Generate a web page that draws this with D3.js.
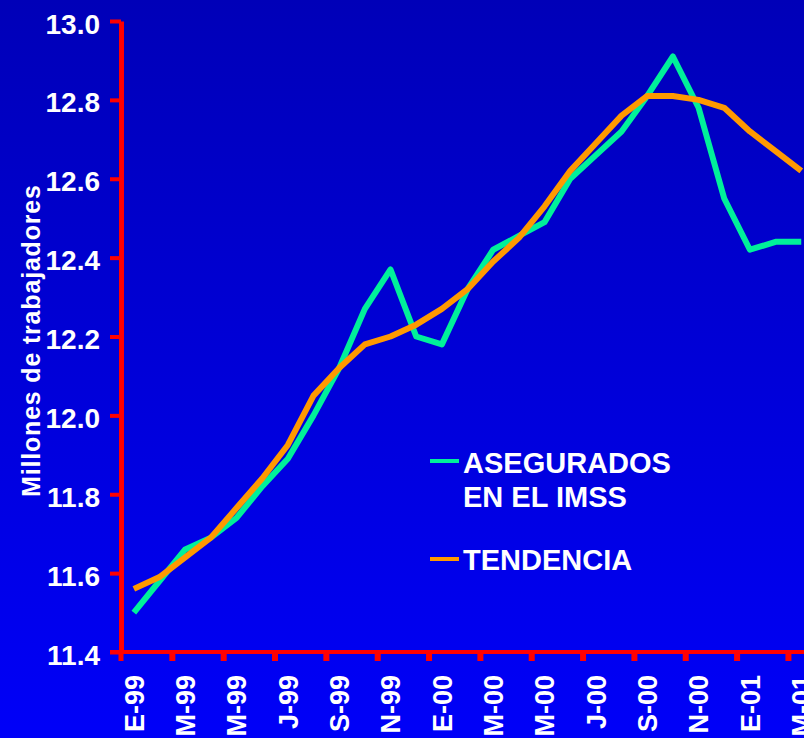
<!DOCTYPE html>
<html>
<head>
<meta charset="utf-8">
<script src="https://cdn.jsdelivr.net/npm/d3@7"></script>
<style>
  html, body { margin: 0; padding: 0; background: #0000cc; }
  svg { display: block; }
  text { font-family: Arial, "Liberation Sans", sans-serif; font-weight: bold; fill: #ffffff; }
</style>
</head>
<body>
<svg id="chart" width="804" height="738"></svg>
<script>
// ---- Data ----
const months = ["E-99","F-99","M-99","A-99","M-99","J-99","J-99","A-99","S-99","O-99","N-99","D-99",
                "E-00","F-00","M-00","A-00","M-00","J-00","J-00","A-00","S-00","O-00","N-00","D-00",
                "E-01","F-01","M-01"];
const asegurados = [11.50, 11.58, 11.66, 11.69, 11.74, 11.82, 11.89, 12.00, 12.12, 12.27, 12.37, 12.20,
                    12.18, 12.32, 12.42, 12.455, 12.49, 12.60, 12.66, 12.72, 12.81, 12.91, 12.78, 12.55,
                    12.42, 12.44, 12.44];
const tendencia  = [11.56, 11.59, 11.64, 11.69, 11.765, 11.84, 11.925, 12.05, 12.12, 12.18, 12.20, 12.23,
                    12.27, 12.32, 12.39, 12.45, 12.53, 12.62, 12.69, 12.76, 12.81, 12.81, 12.80, 12.78,
                    12.72, 12.67, 12.62];
const yTicks = [11.4, 11.6, 11.8, 12.0, 12.2, 12.4, 12.6, 12.8, 13.0];
const yTitle = "Millones de trabajadores";
const legendLabels = [["ASEGURADOS", "EN EL IMSS"], ["TENDENCIA"]];
const colors = { asegurados: "#00f09a", tendencia: "#ff9900", axis: "#ff0000" };

// ---- Setup ----
const svg = d3.select("#chart");
const W = 804, H = 738;
const defs = svg.append("defs");
const grad = defs.append("linearGradient").attr("id", "bg").attr("x1", 0).attr("y1", 0).attr("x2", 0).attr("y2", 1);
grad.append("stop").attr("offset", "0%").attr("stop-color", "#0000b8");
grad.append("stop").attr("offset", "100%").attr("stop-color", "#0000f8");
svg.append("rect").attr("width", W).attr("height", H).attr("fill", "url(#bg)");

const idx = months.map((d, i) => i);
const x = d3.scaleBand().domain(idx).range([121, 121 + 27 * 25.67]).padding(0);
const y = d3.scaleLinear().domain([11.4, 13.0]).range([652, 21]);
const cx = i => x(i) + x.bandwidth() / 2;

// ---- Lines ----
const line = d3.line().x((d, i) => cx(i)).y(d => y(d));
svg.append("path").datum(asegurados).attr("d", line)
  .attr("fill", "none").attr("stroke", colors.asegurados).attr("stroke-width", 6)
  .attr("stroke-linejoin", "round");
svg.append("path").datum(tendencia).attr("d", line)
  .attr("fill", "none").attr("stroke", colors.tendencia).attr("stroke-width", 6)
  .attr("stroke-linejoin", "round");

// ---- Y axis ----
const yAxis = d3.axisLeft(y).tickValues(yTicks).tickSize(11).tickSizeOuter(0).tickPadding(10)
  .tickFormat(d3.format(".1f"));
const gy = svg.append("g").attr("transform", "translate(121,0)").call(yAxis);
gy.select(".domain").attr("stroke", colors.axis).attr("stroke-width", 5);
gy.selectAll(".tick line").attr("stroke", colors.axis).attr("stroke-width", 4);
gy.selectAll(".tick text").attr("font-size", 28).attr("fill", "#fff")
  .attr("font-family", "Arial, 'Liberation Sans', sans-serif").attr("font-weight", "bold")
  .attr("dy", "0.36em").attr("y", 2);

// ---- X axis ----
svg.append("line").attr("x1", 110).attr("x2", W + 20).attr("y1", y(11.4)).attr("y2", y(11.4))
  .attr("stroke", colors.axis).attr("stroke-width", 4);
const tickIdx = idx.filter(i => i % 2 === 0);
svg.append("g").selectAll("line").data(tickIdx).join("line")
  .attr("x1", i => x(i)).attr("x2", i => x(i))
  .attr("y1", y(11.4)).attr("y2", 661)
  .attr("stroke", colors.axis).attr("stroke-width", i => i === 0 ? 5 : 6);
svg.append("g").selectAll("text").data(tickIdx).join("text")
  .attr("transform", i => `translate(${cx(i)},675) rotate(-90)`)
  .attr("text-anchor", "end").attr("dy", "0.36em")
  .attr("font-size", 27).text(i => months[i]);

// ---- Y title ----
svg.append("text").attr("transform", "translate(40,341) rotate(-90)")
  .attr("text-anchor", "middle").attr("font-size", 25)
  .attr("textLength", 312).attr("lengthAdjust", "spacing")
  .text(yTitle);

// ---- Legend ----
const lg = svg.append("g");
lg.append("line").attr("x1", 430).attr("x2", 459).attr("y1", 461).attr("y2", 461)
  .attr("stroke", colors.asegurados).attr("stroke-width", 4);
lg.append("text").attr("x", 463).attr("y", 473).attr("font-size", 29).text(legendLabels[0][0]);
lg.append("text").attr("x", 463).attr("y", 507).attr("font-size", 29).text(legendLabels[0][1]);
lg.append("line").attr("x1", 430).attr("x2", 459).attr("y1", 559).attr("y2", 559)
  .attr("stroke", colors.tendencia).attr("stroke-width", 4);
lg.append("text").attr("x", 463).attr("y", 570).attr("font-size", 29).text(legendLabels[1][0]);
</script>
</body>
</html>
